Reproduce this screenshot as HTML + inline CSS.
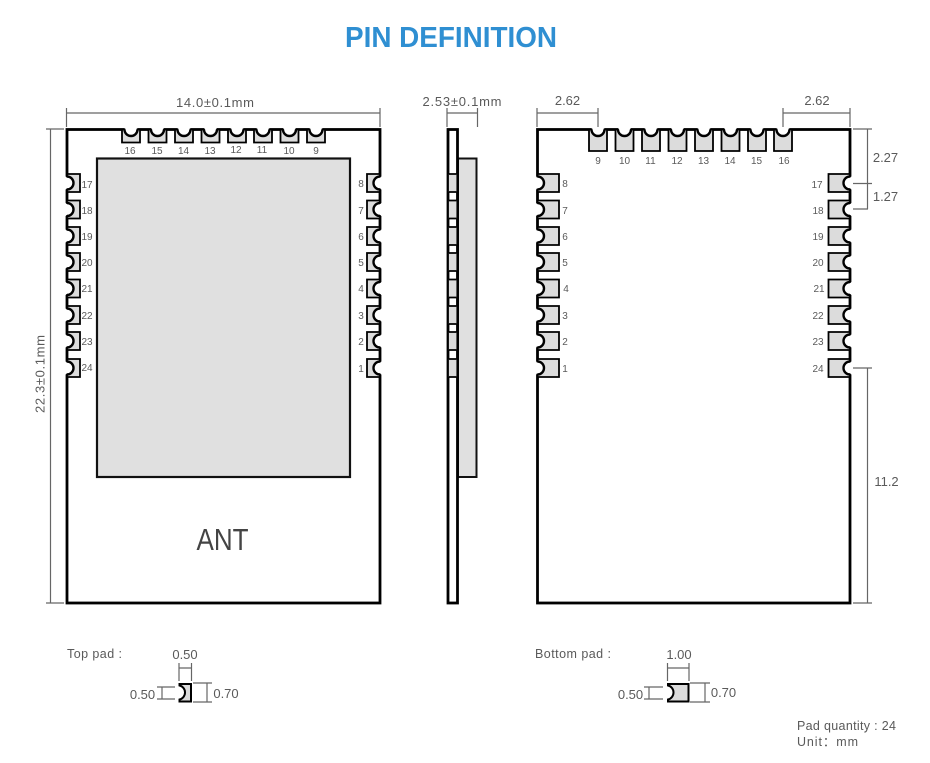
<!DOCTYPE html>
<html>
<head>
<meta charset="utf-8">
<style>
html,body{margin:0;padding:0;background:#fff;width:930px;height:763px;overflow:hidden}
svg{display:block}
text{font-family:"Liberation Sans","DejaVu Sans",sans-serif;fill:#5a5a5a}
.n{font-size:10px;text-anchor:middle}
.d{font-size:13px;text-anchor:middle}
.g{stroke:#666;stroke-width:1.2;fill:none}
.o{fill:#fff;stroke:#000;stroke-width:2.8}
</style>
</head>
<body>
<svg width="930" height="763" viewBox="0 0 930 763" xmlns="http://www.w3.org/2000/svg">
<defs>
<g id="s"><circle r="6.5" fill="#fff"/><path d="M-9 0V13H9V0H6.5A6.5 6.5 0 0 1-6.5 0Z" fill="#dcdcdc" stroke="#000" stroke-width="1.8"/><path d="M6.5 0A6.5 6.5 0 0 1-6.5 0" fill="none" stroke="#000" stroke-width="2.4"/></g>
<g id="l"><circle r="6.5" fill="#fff"/><path d="M-9 0V21.5H9V0H6.5A6.5 6.5 0 0 1-6.5 0Z" fill="#dcdcdc" stroke="#000" stroke-width="1.8"/><path d="M6.5 0A6.5 6.5 0 0 1-6.5 0" fill="none" stroke="#000" stroke-width="2.4"/></g>
<g id="p"><rect x="-3.6" y="-9" width="7.5" height="18" fill="#dcdcdc"/><path d="M-3.6-9H3.9M-3.6 9H3.9" stroke="#000" stroke-width="1.8"/></g>
</defs>

<text x="451" y="47" text-anchor="middle" font-size="29" font-weight="bold" style="fill:#2f8fd2" textLength="212" lengthAdjust="spacingAndGlyphs">PIN DEFINITION</text>

<!-- Left board -->
<rect class="o" x="67" y="129.5" width="313" height="473.5"/>
<use href="#s" x="131" y="129.5"/><use href="#s" x="157.5" y="129.5"/><use href="#s" x="184" y="129.5"/><use href="#s" x="210.5" y="129.5"/><use href="#s" x="237" y="129.5"/><use href="#s" x="263" y="129.5"/><use href="#s" x="289.5" y="129.5"/><use href="#s" x="316" y="129.5"/>
<use href="#s" transform="translate(67 183) rotate(-90)"/><use href="#s" transform="translate(67 209.5) rotate(-90)"/><use href="#s" transform="translate(67 236) rotate(-90)"/><use href="#s" transform="translate(67 262) rotate(-90)"/><use href="#s" transform="translate(67 288.5) rotate(-90)"/><use href="#s" transform="translate(67 315) rotate(-90)"/><use href="#s" transform="translate(67 341) rotate(-90)"/><use href="#s" transform="translate(67 368) rotate(-90)"/>
<use href="#s" transform="translate(380 183) rotate(90)"/><use href="#s" transform="translate(380 209.5) rotate(90)"/><use href="#s" transform="translate(380 236) rotate(90)"/><use href="#s" transform="translate(380 262) rotate(90)"/><use href="#s" transform="translate(380 288.5) rotate(90)"/><use href="#s" transform="translate(380 315) rotate(90)"/><use href="#s" transform="translate(380 341) rotate(90)"/><use href="#s" transform="translate(380 368) rotate(90)"/>
<rect x="97" y="158.5" width="253" height="318.5" fill="#e0e0e0" stroke="#111" stroke-width="2.2"/>
<text class="n" x="130" y="154">16</text><text class="n" x="157" y="154">15</text><text class="n" x="183.5" y="154">14</text><text class="n" x="210" y="154">13</text><text class="n" x="236" y="153">12</text><text class="n" x="262" y="153">11</text><text class="n" x="289" y="154">10</text><text class="n" x="316" y="154">9</text>
<text class="n" x="87" y="188">17</text><text class="n" x="87" y="214">18</text><text class="n" x="87" y="240">19</text><text class="n" x="87" y="266">20</text><text class="n" x="87" y="292">21</text><text class="n" x="87" y="319">22</text><text class="n" x="87" y="345">23</text><text class="n" x="87" y="371">24</text>
<text class="n" x="361" y="187">8</text><text class="n" x="361" y="214">7</text><text class="n" x="361" y="240">6</text><text class="n" x="361" y="266">5</text><text class="n" x="361" y="292">4</text><text class="n" x="361" y="319">3</text><text class="n" x="361" y="345">2</text><text class="n" x="361" y="372">1</text>
<text x="222.5" y="550" text-anchor="middle" font-size="31" style="fill:#444" textLength="52" lengthAdjust="spacingAndGlyphs">ANT</text>

<!-- Left dims -->
<path class="g" d="M66.5 108V127M380 108V127M66.5 113H380M46 129H64M46 603H64M50.5 129V603"/>
<text class="d" x="215" y="107" textLength="78" lengthAdjust="spacing">14.0±0.1mm</text>
<text class="d" transform="translate(44.5 374) rotate(-90)" textLength="78" lengthAdjust="spacing">22.3±0.1mm</text>

<!-- Side view -->
<rect x="458" y="158.5" width="18.5" height="318.5" fill="#e0e0e0" stroke="#111" stroke-width="2"/>
<rect class="o" x="448" y="129.5" width="9.5" height="473.5"/>
<use href="#p" x="452.5" y="183"/><use href="#p" x="452.5" y="209.5"/><use href="#p" x="452.5" y="236"/><use href="#p" x="452.5" y="262"/><use href="#p" x="452.5" y="288.5"/><use href="#p" x="452.5" y="315"/><use href="#p" x="452.5" y="341"/><use href="#p" x="452.5" y="368"/>
<path class="g" d="M447 108V127M477.5 108V127M447 113H477.5"/>
<text class="d" x="462" y="106" textLength="79" lengthAdjust="spacing">2.53±0.1mm</text>

<!-- Right board -->
<rect class="o" x="537.5" y="129.5" width="312.5" height="473.5"/>
<use href="#l" x="598" y="129.5"/><use href="#l" x="624.5" y="129.5"/><use href="#l" x="651" y="129.5"/><use href="#l" x="677.5" y="129.5"/><use href="#l" x="704" y="129.5"/><use href="#l" x="730.5" y="129.5"/><use href="#l" x="757" y="129.5"/><use href="#l" x="783" y="129.5"/>
<use href="#l" transform="translate(537.5 183) rotate(-90)"/><use href="#l" transform="translate(537.5 209.5) rotate(-90)"/><use href="#l" transform="translate(537.5 236) rotate(-90)"/><use href="#l" transform="translate(537.5 262) rotate(-90)"/><use href="#l" transform="translate(537.5 288.5) rotate(-90)"/><use href="#l" transform="translate(537.5 315) rotate(-90)"/><use href="#l" transform="translate(537.5 341) rotate(-90)"/><use href="#l" transform="translate(537.5 368) rotate(-90)"/>
<use href="#l" transform="translate(850 183) rotate(90)"/><use href="#l" transform="translate(850 209.5) rotate(90)"/><use href="#l" transform="translate(850 236) rotate(90)"/><use href="#l" transform="translate(850 262) rotate(90)"/><use href="#l" transform="translate(850 288.5) rotate(90)"/><use href="#l" transform="translate(850 315) rotate(90)"/><use href="#l" transform="translate(850 341) rotate(90)"/><use href="#l" transform="translate(850 368) rotate(90)"/>
<text class="n" x="598" y="164">9</text><text class="n" x="624.5" y="164">10</text><text class="n" x="650.5" y="164">11</text><text class="n" x="677" y="164">12</text><text class="n" x="703.5" y="164">13</text><text class="n" x="730" y="164">14</text><text class="n" x="756.5" y="164">15</text><text class="n" x="784" y="164">16</text>
<text class="n" x="565" y="187">8</text><text class="n" x="565" y="214">7</text><text class="n" x="565" y="240">6</text><text class="n" x="565" y="266">5</text><text class="n" x="566" y="292">4</text><text class="n" x="565" y="319">3</text><text class="n" x="565" y="345">2</text><text class="n" x="565" y="372">1</text>
<text class="n" x="817" y="188">17</text><text class="n" x="818" y="214">18</text><text class="n" x="818" y="240">19</text><text class="n" x="818" y="266">20</text><text class="n" x="819" y="292">21</text><text class="n" x="818" y="319">22</text><text class="n" x="818" y="345">23</text><text class="n" x="818" y="372">24</text>

<!-- Right dims -->
<path class="g" d="M537 108V127M598 108V127M537 113H598M783 108V127M850 108V127M783 113H850M853 129H872M853 183.5H872M853 209H868M867.5 129V209M853 368H872M867.5 368V603M853 603H872"/>
<text class="d" x="567.5" y="105">2.62</text>
<text class="d" x="817" y="105">2.62</text>
<text class="d" x="885.5" y="162">2.27</text>
<text class="d" x="885.5" y="201">1.27</text>
<text class="d" x="886.5" y="486">11.2</text>

<!-- Top pad legend -->
<text x="67" y="658" font-size="12.5" textLength="55" lengthAdjust="spacing">Top pad :</text>
<text class="d" x="185" y="659">0.50</text>
<path class="g" d="M179 663V681M191.5 663V681M179 668H191.5M157 687H175M157 699H175M162 687V699M193 683H212M193 702H212M207 683V702"/>
<path d="M179.5 684H191V701.5H179.5V699.5A7.2 7.2 0 0 0 179.5 685.5Z" fill="#dcdcdc" stroke="#000" stroke-width="2"/>
<text class="d" x="142.5" y="699">0.50</text>
<text class="d" x="226" y="698">0.70</text>

<!-- Bottom pad legend -->
<text x="535" y="658" font-size="12.5" textLength="76" lengthAdjust="spacing">Bottom pad :</text>
<text class="d" x="679" y="659">1.00</text>
<path class="g" d="M667.5 663V681M689 663V681M667.5 668H689M644 687H663M644 699H663M649 687V699M690 683H710M690 702H710M705 683V702"/>
<path d="M668 684H688.5V701.5H668V699.5A7.2 7.2 0 0 0 668 685.5Z" fill="#dcdcdc" stroke="#000" stroke-width="2"/>
<text class="d" x="630.5" y="699">0.50</text>
<text class="d" x="723.5" y="697">0.70</text>

<!-- Notes -->
<text x="797" y="730" font-size="12.5" textLength="99" lengthAdjust="spacing">Pad quantity : 24</text>
<text x="797" y="746" font-size="12.5" textLength="61" lengthAdjust="spacing">Unit：mm</text>
</svg>
</body>
</html>
